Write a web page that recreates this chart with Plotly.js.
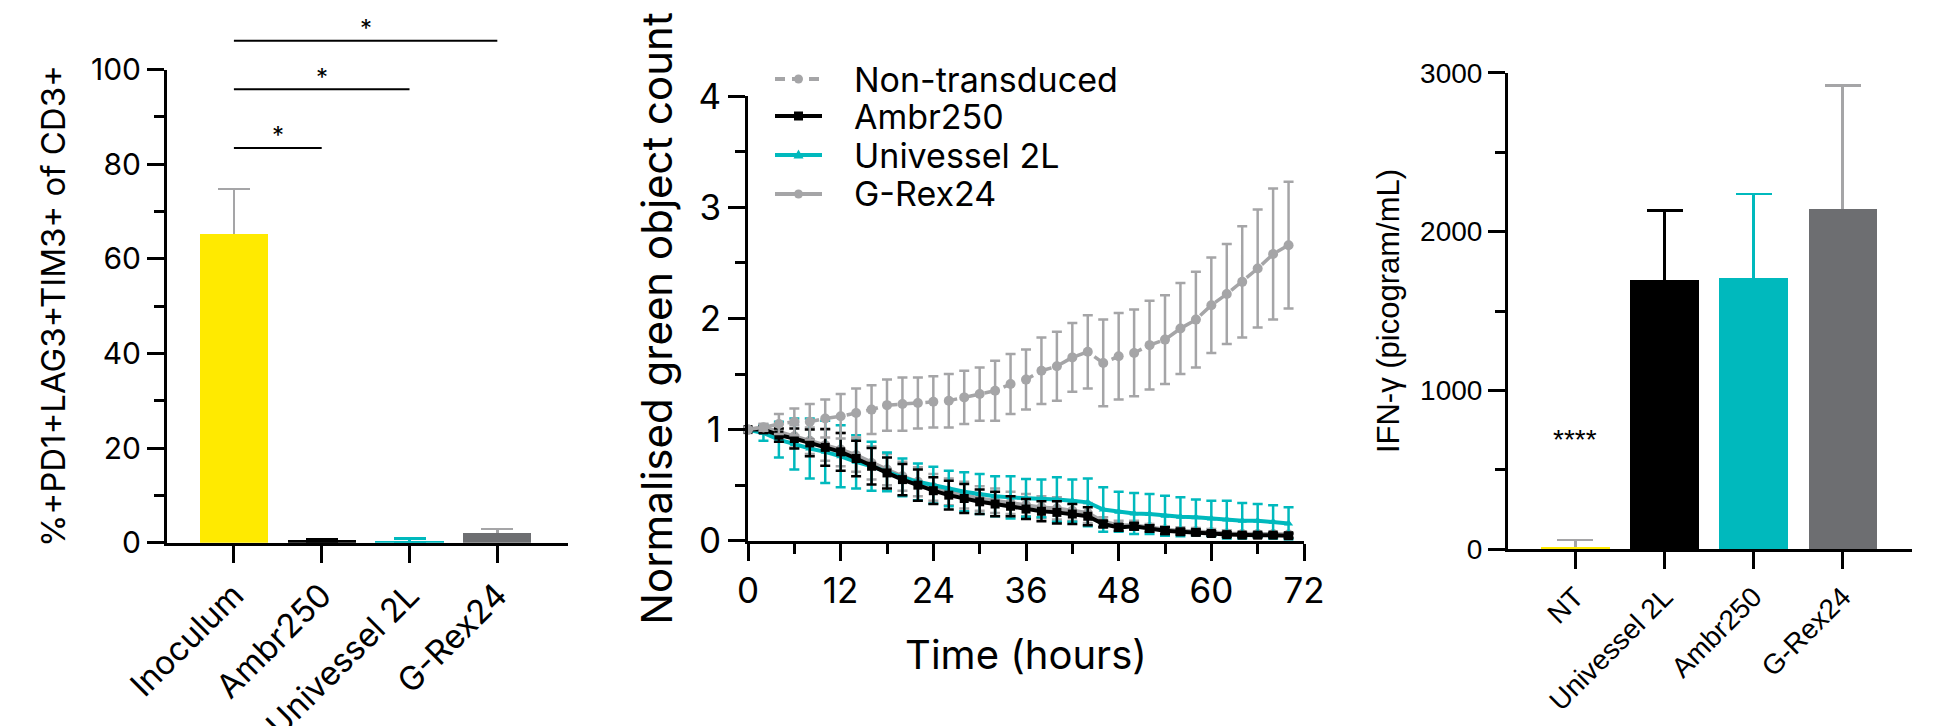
<!DOCTYPE html>
<html><head><meta charset="utf-8">
<script src="https://cdn.plot.ly/plotly-3.0.1.min.js"></script>
<style>html,body{margin:0;padding:0;background:#fff;} #chart{width:1933px;height:726px;}</style>
</head><body><div id="chart"></div>
<script>
// ---------- Panel 1: exhaustion markers ----------
const exhaustCats = ['Inoculum', 'Ambr250', 'Univessel 2L', 'G-Rex24'];
const exhaustMean = [65.3, 0.5, 0.45, 2.1];
const exhaustErr  = [9.5, 0.3, 0.45, 0.8];
const sigPairs    = [[0, 1], [0, 2], [0, 3]];
const sigHeights  = [83.4, 95.8, 106.1];
const sigStarY    = [87.0, 99.4, 109.6];
const sigLabels   = ['*', '*', '*'];

// ---------- Panel 2: killing assay ----------
const hours = [0,2,4,6,8,10,12,14,16,18,20,22,24,26,28,30,32,34,36,38,40,42,44,46,48,50,52,54,56,58,60,62,64,66,68,70];
const nonTransduced   = [1.00,1.02,1.05,1.07,1.07,1.10,1.12,1.15,1.18,1.22,1.23,1.24,1.25,1.26,1.29,1.32,1.35,1.41,1.45,1.53,1.57,1.65,1.70,1.60,1.66,1.69,1.76,1.81,1.91,1.99,2.12,2.22,2.33,2.45,2.58,2.66];
const nonTransducedSD = [0,0.03,0.09,0.12,0.16,0.17,0.20,0.22,0.22,0.23,0.24,0.23,0.23,0.24,0.24,0.24,0.27,0.27,0.27,0.30,0.31,0.31,0.33,0.39,0.39,0.39,0.40,0.40,0.41,0.43,0.43,0.45,0.50,0.53,0.59,0.57];
const ambr250   = [1.00,1.00,0.95,0.92,0.88,0.84,0.80,0.74,0.67,0.61,0.55,0.50,0.45,0.41,0.38,0.35,0.33,0.31,0.285,0.265,0.255,0.24,0.22,0.15,0.12,0.13,0.11,0.09,0.08,0.075,0.065,0.055,0.05,0.05,0.05,0.045];
const ambr250SD = [0,0.03,0.06,0.09,0.12,0.165,0.17,0.16,0.165,0.14,0.14,0.14,0.12,0.13,0.13,0.11,0.11,0.09,0.09,0.09,0.10,0.09,0.08,0.03,0.03,0.03,0.03,0.03,0.025,0.025,0.02,0.02,0.02,0.02,0.02,0.02];
const univessel   = [1.00,0.97,0.91,0.87,0.83,0.80,0.76,0.71,0.67,0.62,0.57,0.53,0.50,0.47,0.44,0.42,0.40,0.39,0.385,0.38,0.37,0.36,0.345,0.28,0.26,0.245,0.24,0.225,0.215,0.21,0.20,0.19,0.18,0.18,0.17,0.155];
const univesselSD = [0,0.07,0.16,0.23,0.27,0.28,0.28,0.24,0.22,0.175,0.17,0.165,0.165,0.16,0.175,0.18,0.18,0.19,0.17,0.17,0.20,0.19,0.215,0.20,0.18,0.185,0.18,0.18,0.175,0.16,0.16,0.17,0.16,0.15,0.15,0.145];
const grex24   = [1.00,1.02,0.98,0.94,0.90,0.86,0.82,0.77,0.70,0.64,0.58,0.53,0.48,0.44,0.41,0.38,0.36,0.34,0.32,0.30,0.29,0.27,0.25,0.17,0.14,0.14,0.12,0.10,0.09,0.085,0.075,0.065,0.06,0.06,0.06,0.055];
const grex24SD = [0,0.03,0.07,0.10,0.12,0.14,0.15,0.15,0.15,0.14,0.13,0.13,0.12,0.12,0.12,0.11,0.11,0.10,0.10,0.10,0.10,0.09,0.09,0.04,0.04,0.04,0.03,0.03,0.03,0.03,0.03,0.03,0.02,0.02,0.02,0.02];

// ---------- Panel 3: IFN-gamma ----------
const ifnCats = ['NT', 'Univessel 2L', 'Ambr250', 'G-Rex24'];
const ifnMean = [15, 1695, 1706, 2142];
const ifnErr  = [43, 439, 532, 777];
const ifnSigLabel = '****';
const ifnSigY = 690;

// ---------- styling ----------
const YELLOW = '#ffea00', CYAN = '#00b9bd', DARK = '#6d6e71', LIGHT = '#a5a5a7', BLACK = '#000000';
const F1 = 'Inter, "Open Sans", sans-serif';
const F3 = '"Liberation Sans", Arial, sans-serif';
const W = 1933, H = 726;

const traces = [];
function addBars(cats, means, errs, barColors, errColors, xa, ya, width, thick, capw) {
  cats.forEach((c, i) => {
    traces.push({type: 'bar', x: [c], y: [means[i]], xaxis: xa, yaxis: ya, width: width,
      marker: {color: 'rgba(0,0,0,0)', line: {width: 0}},
      error_y: {type: 'data', array: [errs[i]], symmetric: true, color: errColors[i], thickness: thick, width: capw},
      showlegend: false, hoverinfo: 'skip'});
  });
  cats.forEach((c, i) => {
    traces.push({type: 'bar', x: [c], y: [means[i]], xaxis: xa, yaxis: ya, width: width,
      marker: {color: barColors[i], line: {width: 0}}, showlegend: false});
  });
}
addBars(exhaustCats, exhaustMean, exhaustErr, [YELLOW, BLACK, CYAN, DARK], [LIGHT, BLACK, CYAN, LIGHT], 'x', 'y', 0.775, 2.5, 16);
addBars(ifnCats, ifnMean, ifnErr, [YELLOW, BLACK, CYAN, DARK], [LIGHT, BLACK, CYAN, LIGHT], 'x3', 'y3', 0.765, 2.5, 18);

sigPairs.forEach((p, i) => {
  traces.push({type: 'scatter', mode: 'lines', x: [exhaustCats[p[0]], exhaustCats[p[1]]], y: [sigHeights[i], sigHeights[i]],
    xaxis: 'x', yaxis: 'y4', line: {color: BLACK, width: 2}, showlegend: false, hoverinfo: 'skip'});
});

// series of panel 2, in legend order
const series = [
  {name: 'Non-transduced', y: nonTransduced, sd: nonTransducedSD, color: LIGHT, dash: '12px,8px', symbol: 'circle', size: 10, lw: 3.5},
  {name: 'Ambr250', y: ambr250, sd: ambr250SD, color: BLACK, dash: 'solid', symbol: 'square', size: 9, lw: 4},
  {name: 'Univessel 2L', y: univessel, sd: univesselSD, color: CYAN, dash: 'solid', symbol: 'triangle-up', size: 8, lw: 4},
  {name: 'G-Rex24', y: grex24, sd: grex24SD, color: LIGHT, dash: 'solid', symbol: 'circle', size: 10, lw: 4}
];
const drawOrder = [3, 2, 1, 0];
drawOrder.forEach(k => {
  const s = series[k];
  traces.push({type: 'scatter', mode: 'lines+markers', name: s.name, x: hours, y: s.y, xaxis: 'x2', yaxis: 'y2',
    line: {color: s.color, width: s.lw, dash: s.dash}, marker: {symbol: s.symbol, size: s.size, color: s.color},
    error_y: {type: 'data', array: s.sd, visible: true, color: s.color, thickness: 2.5, width: 5},
    cliponaxis: false, showlegend: false});
});

// hand-built legend (positions in pixels of the 1933x726 page)
const LEG = {x0: 775, x1: 822, tx: 852, rows: [79, 116, 155, 194], font: 34};
const shapes = [];
const legendAnn = [];
series.forEach((s, i) => {
  const yp = 1 - LEG.rows[i] / H;
  const xc = (LEG.x0 + LEG.x1) / 2 / W;
  shapes.push({type: 'line', xref: 'paper', yref: 'paper', x0: LEG.x0 / W, x1: LEG.x1 / W, y0: yp, y1: yp,
    line: {color: s.color, width: 4, dash: s.dash === 'solid' ? 'solid' : '10px,7px'}});
  const r = 4.5;
  if (s.symbol === 'circle' || s.symbol === 'square') {
    shapes.push({type: s.symbol === 'circle' ? 'circle' : 'rect', xref: 'paper', yref: 'paper',
      xsizemode: 'pixel', ysizemode: 'pixel', xanchor: xc, yanchor: yp, x0: -r, x1: r, y0: -r, y1: r,
      fillcolor: s.color, line: {width: 0}});
  } else {
    shapes.push({type: 'path', xref: 'paper', yref: 'paper', xsizemode: 'pixel', ysizemode: 'pixel',
      xanchor: xc, yanchor: yp, path: 'M-5,-3.5L5,-3.5L0,5.5Z', fillcolor: s.color, line: {width: 0}});
  }
  legendAnn.push({xref: 'paper', yref: 'paper', x: LEG.tx / W, y: yp, xanchor: 'left', yanchor: 'middle',
    text: s.name, showarrow: false, font: {family: F1, size: LEG.font, color: BLACK}});
});

const axBase = {showline: true, linewidth: 3, linecolor: BLACK, ticks: 'outside', ticklen: 17, tickwidth: 3,
  tickcolor: BLACK, showgrid: false, zeroline: false, fixedrange: true, automargin: false};
const minor = (d) => ({dtick: d, ticks: 'outside', ticklen: 10, tickwidth: 3, tickcolor: BLACK, showgrid: false});

const y1dom = [(H - 542.7) / H, (H - 69.5) / H];

const layout = {
  width: W, height: H, margin: {l: 0, r: 0, t: 0, b: 0},
  paper_bgcolor: '#ffffff', plot_bgcolor: 'rgba(0,0,0,0)', barmode: 'overlay', bargap: 0,
  font: {family: F1, color: BLACK},
  showlegend: false,
  xaxis: Object.assign({}, axBase, {domain: [167/W, 568/W], anchor: 'y', type: 'category',
    categoryorder: 'array', categoryarray: exhaustCats, range: [-0.762, 3.805], tickangle: -45,
    tickfont: {family: F1, size: 33, color: BLACK}}),
  yaxis: Object.assign({}, axBase, {domain: y1dom, anchor: 'x', range: [0, 100], dtick: 20, minor: minor(10),
    tickfont: {family: F1, size: 30, color: BLACK},
    title: {text: '%+PD1+LAG3+TIM3+ of CD3+', font: {family: F1, size: 33, color: BLACK}, standoff: 16}}),
  yaxis4: {domain: [y1dom[0], 1], anchor: 'x', range: [0, 100 * (1 - y1dom[0]) / (y1dom[1] - y1dom[0])],
    visible: false, showgrid: false, zeroline: false, fixedrange: true},
  xaxis2: Object.assign({}, axBase, {domain: [748/W, 1304/W], anchor: 'y2', range: [0, 72], dtick: 12,
    minor: minor(6), tickfont: {family: F1, size: 35, color: BLACK},
    title: {text: 'Time (hours)', font: {family: F1, size: 40, color: BLACK}, standoff: 32}}),
  yaxis2: Object.assign({}, axBase, {domain: [(H - 540.7) / H, (H - 96.3) / H], anchor: 'x2', range: [0, 4], dtick: 1,
    minor: minor(0.5), tickfont: {family: F1, size: 35, color: BLACK},
    title: {text: 'Normalised green object count', font: {family: F1, size: 42, color: BLACK}, standoff: 13}}),
  xaxis3: Object.assign({}, axBase, {domain: [1508/W, 1912/W], anchor: 'y3', type: 'category',
    categoryorder: 'array', categoryarray: ifnCats, range: [-0.758, 3.78], tickangle: -45,
    tickfont: {family: F3, size: 28, color: BLACK}}),
  yaxis3: Object.assign({}, axBase, {domain: [(H - 549.3) / H, (H - 72.7) / H], anchor: 'x3', range: [0, 3000], dtick: 1000,
    minor: minor(500), tickfont: {family: F3, size: 28, color: BLACK},
    title: {text: 'IFN-γ (picogram/mL)', font: {family: F3, size: 31, color: BLACK}, standoff: 12}}),
  shapes: shapes,
  annotations: sigPairs.map((p, i) => ({xref: 'x', yref: 'y4', x: (p[0] + p[1]) / 2, y: sigStarY[i] - 1.0,
    text: sigLabels[i], showarrow: false, xanchor: 'center', yanchor: 'middle',
    font: {family: F1, size: 24, color: BLACK}})).concat([
    {xref: 'x3', yref: 'y3', x: 0, y: ifnSigY, text: ifnSigLabel, showarrow: false, xanchor: 'center',
     yanchor: 'middle', font: {family: F3, size: 28, color: BLACK}}]).concat(legendAnn)
};

Plotly.newPlot('chart', traces, layout, {staticPlot: true, displayModeBar: false});
</script></body></html>
